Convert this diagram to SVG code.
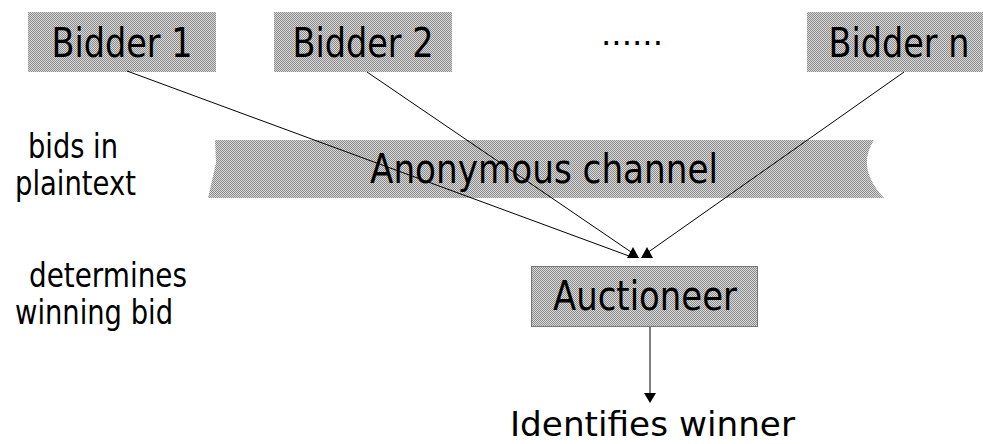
<svg xmlns="http://www.w3.org/2000/svg" width="983" height="444" viewBox="0 0 983 444">
<defs>
<pattern id="dither" patternUnits="userSpaceOnUse" width="2" height="2">
<rect width="2" height="2" fill="#dadada"/>
<rect width="1" height="1" fill="#8a8a8a"/>
<rect x="1" y="1" width="1" height="1" fill="#8a8a8a"/>
</pattern>
</defs>
<style>
.box{fill:url(#dither);}
.lbl{font-family:"DejaVu Sans",Verdana,sans-serif;fill:#000;}
.big{font-size:40px;text-anchor:middle;}
.side{font-size:33px;}
.edge{stroke:#000;stroke-width:1;fill:none;}
.head{fill:#000;}
</style>
<rect width="983" height="444" fill="#fff"/>
<g id="bidder1">
<rect class="box" x="28" y="12" width="188" height="60"/>
<text class="lbl big" x="122" y="57" textLength="141" lengthAdjust="spacingAndGlyphs">Bidder 1</text>
</g>
<g id="bidder2">
<rect class="box" x="274" y="12" width="178" height="60"/>
<text class="lbl big" x="363" y="57" textLength="141" lengthAdjust="spacingAndGlyphs">Bidder 2</text>
</g>
<g id="dots">
<text class="lbl" x="601" y="45" font-size="32" textLength="62" lengthAdjust="spacingAndGlyphs">......</text>
</g>
<g id="biddern">
<rect class="box" x="807" y="12" width="176" height="60"/>
<text class="lbl big" x="899" y="57" textLength="141" lengthAdjust="spacingAndGlyphs">Bidder n</text>
</g>
<g id="channel">
<path class="box" d="M215,140 L874,140 Q856,168 884,198 L208,198 L216,163 Z"/>
<text class="lbl big" x="544" y="183" textLength="348" lengthAdjust="spacingAndGlyphs">Anonymous channel</text>
</g>
<g id="auctioneer">
<rect class="box" x="531.5" y="266.5" width="226" height="60" stroke="#777" stroke-width="1"/>
<text class="lbl big" x="645" y="310" textLength="184" lengthAdjust="spacingAndGlyphs">Auctioneer</text>
</g>
<g id="notes">
<text class="lbl side" x="28" y="158" textLength="90" lengthAdjust="spacingAndGlyphs">bids in</text>
<text class="lbl side" x="15" y="195" textLength="121" lengthAdjust="spacingAndGlyphs">plaintext</text>
<text class="lbl side" x="29" y="287" textLength="158" lengthAdjust="spacingAndGlyphs">determines</text>
<text class="lbl side" x="15" y="324" textLength="158" lengthAdjust="spacingAndGlyphs">winning bid</text>
</g>
<g id="winner">
<text class="lbl" x="510" y="436" font-size="34" textLength="285" lengthAdjust="spacingAndGlyphs">Identifies winner</text>
</g>
<g id="connectors">
<line class="edge" x1="127" y1="71" x2="629" y2="256"/>
<line class="edge" x1="367" y1="72" x2="631" y2="252"/>
<line class="edge" x1="904" y1="72" x2="647" y2="253"/>
<polygon class="head" points="633,247 627,258 639,258"/>
<polygon class="head" points="647,247 641,258 653,258"/>
<line class="edge" x1="650" y1="327" x2="650" y2="395"/>
<polygon class="head" points="644,393 656,393 650,403"/>
</g>
</svg>
